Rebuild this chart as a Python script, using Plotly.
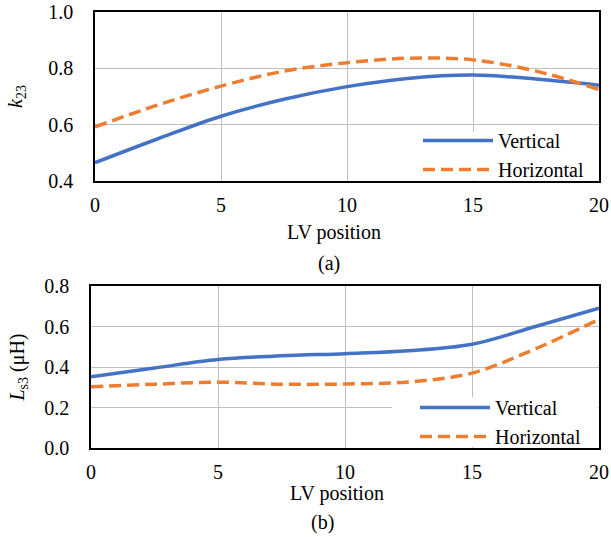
import plotly.graph_objects as go

x_top = [0, 2.5, 5, 7.5, 10, 12.5, 15, 17.5, 20]
k23_vertical = [0.465, 0.55, 0.63, 0.69, 0.735, 0.765, 0.776, 0.762, 0.74]
k23_horizontal = [0.592, 0.67, 0.737, 0.79, 0.82, 0.836, 0.83, 0.79, 0.725]

x_bot = [0, 2.5, 5, 7.5, 10, 12.5, 15, 17.5, 20]
ls3_vertical = [0.352, 0.395, 0.437, 0.455, 0.466, 0.48, 0.512, 0.6, 0.69]
ls3_horizontal = [0.302, 0.315, 0.325, 0.315, 0.316, 0.326, 0.37, 0.49, 0.635]

x_ticks = [0, 5, 10, 15, 20]

BLUE = "#4472C4"
ORANGE = "#ED7D31"
FONT = "Liberation Serif"
DASH = "12px,6px"
FS = 20

fig = go.Figure()
fig.add_trace(go.Scatter(x=x_top, y=k23_vertical, name="Vertical", mode="lines",
                         line=dict(color=BLUE, width=3.5, shape="spline"), xaxis="x", yaxis="y", legend="legend"))
fig.add_trace(go.Scatter(x=x_top, y=k23_horizontal, name="Horizontal", mode="lines",
                         line=dict(color=ORANGE, width=3.5, shape="spline", dash=DASH), xaxis="x", yaxis="y", legend="legend"))
fig.add_trace(go.Scatter(x=x_bot, y=ls3_vertical, name="Vertical", mode="lines",
                         line=dict(color=BLUE, width=3.5, shape="spline"), xaxis="x2", yaxis="y2", legend="legend2"))
fig.add_trace(go.Scatter(x=x_bot, y=ls3_horizontal, name="Horizontal", mode="lines",
                         line=dict(color=ORANGE, width=3.5, shape="spline", dash=DASH), xaxis="x2", yaxis="y2", legend="legend2"))

W, H = 611, 537
def px_x(v): return v / W
def px_y(v): return 1 - v / H

axis_common = dict(showline=True, linecolor="black", linewidth=1.5, mirror=True,
                   showgrid=True, gridcolor="#BFBFBF", gridwidth=1.2, zeroline=False,
                   ticks="", automargin=False,
                   tickfont=dict(family=FONT, size=FS, color="black"))

legend_common = dict(xanchor="right", yanchor="bottom", bgcolor="rgba(0,0,0,0)", borderwidth=0,
                     font=dict(family=FONT, size=FS), tracegroupgap=0, itemwidth=70)

fig.update_layout(
    width=W, height=H, margin=dict(l=0, r=0, t=0, b=0, autoexpand=False),
    paper_bgcolor="white", plot_bgcolor="white",
    font=dict(family=FONT, size=FS, color="black"),
    xaxis=dict(domain=[px_x(95), px_x(599)], range=[0, 20], tickvals=x_ticks, anchor="y",
               ticklabelstandoff=5, **axis_common),
    yaxis=dict(domain=[px_y(181), px_y(12)], range=[0.4, 1.0], tickvals=[0.4, 0.6, 0.8, 1.0],
               tickformat=".1f", anchor="x", ticklabelstandoff=16,
               title=dict(text="<i>k</i><sub>23</sub>", font=dict(family=FONT, size=FS), standoff=20),
               **axis_common),
    xaxis2=dict(domain=[px_x(91), px_x(599)], range=[0, 20], tickvals=x_ticks, anchor="y2",
                ticklabelstandoff=5, **axis_common),
    yaxis2=dict(domain=[px_y(448), px_y(286)], range=[0, 0.8], tickvals=[0, 0.2, 0.4, 0.6, 0.8],
                tickformat=".1f", anchor="x2", ticklabelstandoff=16,
                title=dict(text="<i>L</i><sub>s3</sub> (μH)", font=dict(family=FONT, size=FS), standoff=14),
                **axis_common),
    legend=dict(x=px_x(589), y=px_y(189), **legend_common),
    legend2=dict(x=px_x(586), y=px_y(456), **legend_common),
    shapes=[
        dict(type="rect", xref="paper", yref="paper", x0=px_x(404), x1=px_x(598), y0=px_y(180), y1=px_y(132),
             fillcolor="white", line=dict(width=0), layer="above"),
        dict(type="rect", xref="paper", yref="paper", x0=px_x(392), x1=px_x(598), y0=px_y(447), y1=px_y(397),
             fillcolor="white", line=dict(width=0), layer="above"),
    ],
    annotations=[
        dict(text="LV position", x=px_x(334), y=px_y(232), xref="paper", yref="paper",
             xanchor="center", yanchor="middle", showarrow=False, font=dict(family=FONT, size=FS)),
        dict(text="LV position", x=px_x(337), y=px_y(493), xref="paper", yref="paper",
             xanchor="center", yanchor="middle", showarrow=False, font=dict(family=FONT, size=FS)),
        dict(text="(a)", x=px_x(329), y=px_y(263), xref="paper", yref="paper",
             xanchor="center", yanchor="middle", showarrow=False, font=dict(family=FONT, size=FS)),
        dict(text="(b)", x=px_x(322), y=px_y(522), xref="paper", yref="paper",
             xanchor="center", yanchor="middle", showarrow=False, font=dict(family=FONT, size=FS)),
    ],
)

fig.write_html("out.html", config={"displayModeBar": False},
               post_script="document.body.style.margin='0';")
